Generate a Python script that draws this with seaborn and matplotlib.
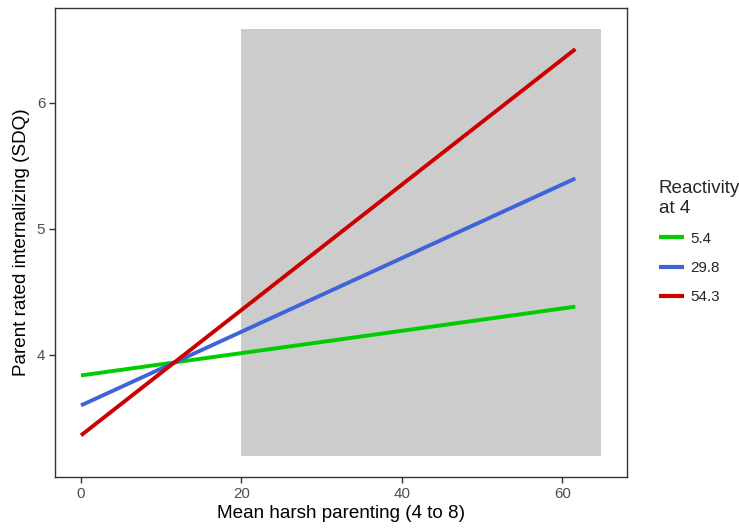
import numpy as np
import pandas as pd
import matplotlib
matplotlib.use("Agg")
import matplotlib.pyplot as plt
import seaborn as sns

# ---- data ----
groups = ["5.4", "29.8", "54.3"]
x_values = [0.0, 61.6]
y_green = [3.834, 4.380]
y_blue = [3.596, 5.398]
y_red = [3.358, 6.425]
colors = ["#00CD00", "#3F64DA", "#CD0000"]

region_x = [20.0, 64.8]
region_y = [3.197, 6.586]

x_ticks = [0, 20, 40, 60]
y_ticks = [4, 5, 6]

df = pd.DataFrame({
    "x": x_values * 3,
    "y": y_green + y_blue + y_red,
    "g": [groups[0]] * 2 + [groups[1]] * 2 + [groups[2]] * 2,
})

sns.set_theme(style="white")
plt.rcParams["font.family"] = ["Liberation Sans", "DejaVu Sans"]

fig = plt.figure(figsize=(7.39, 5.30), dpi=100)
ax = fig.add_axes([55 / 739, 1 - 477 / 530, (627 - 55) / 739, (477 - 7.5) / 530])

ax.fill_between(region_x, [region_y[0]] * 2, [region_y[1]] * 2,
                color="#CCCCCC", linewidth=0, zorder=1)

sns.lineplot(data=df, x="x", y="y", hue="g", hue_order=groups,
             palette=colors, linewidth=2.8, ax=ax, zorder=3,
             solid_capstyle="butt")

xmin, xmax = min(x_values[0], region_x[0]), max(x_values[1], region_x[1])
ymin = min(min(y_green), min(y_blue), min(y_red), region_y[0])
ymax = max(max(y_green), max(y_blue), max(y_red), region_y[1])
ax.set_xlim(xmin - 0.05 * (xmax - xmin), xmax + 0.05 * (xmax - xmin))
ax.set_ylim(ymin - 0.05 * (ymax - ymin), ymax + 0.05 * (ymax - ymin))

ax.set_xticks(x_ticks)
ax.set_yticks(y_ticks)
ax.tick_params(axis="both", which="major", length=4, width=1, color="#333333",
               labelsize=10.9, labelcolor="#4D4D4D", pad=3, bottom=True, left=True)
for s in ax.spines.values():
    s.set_color("#333333")
    s.set_linewidth(1.0)

ax.set_xlabel("Mean harsh parenting (4 to 8)", fontsize=13.6, color="black", labelpad=3)
ax.set_ylabel("Parent rated internalizing (SDQ)", fontsize=13.6, color="black", labelpad=5)

handles, labels = ax.get_legend_handles_labels()
leg = ax.legend(handles, labels, title="Reactivity\nat 4", loc="upper left",
                bbox_to_anchor=(659 / 739, 1 - 180 / 530), bbox_transform=fig.transFigure,
                frameon=False, fontsize=10.9, title_fontsize=13.6, alignment="left",
                handlelength=1.65, handletextpad=0.4, labelspacing=1.0,
                borderaxespad=0, borderpad=0)
for line in leg.get_lines():
    line.set_linewidth(3.0)

fig.savefig("out.png", dpi=100)
